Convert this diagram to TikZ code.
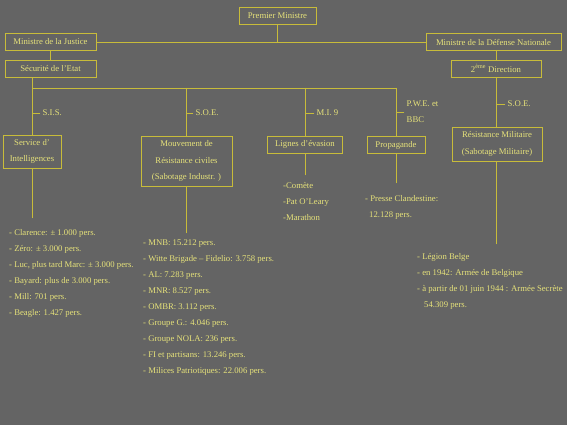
\documentclass[tikz,border=0pt]{standalone}
\usepackage{fontspec}
\setmainfont{Liberation Serif}
\usepackage{xcolor}
\usepackage{tikz}
\usetikzlibrary{positioning}
\definecolor{orgBack}{HTML}{646464}
\definecolor{orgLine}{HTML}{C8BC3A}
\definecolor{orgText}{HTML}{E6E27A}
\tikzset{
  org diagram/.style={x=1pt, y=-1pt, font=\fontsize{8.7}{16}\selectfont,
    text=orgText, line cap=rect},
  org box/.style={draw=orgLine, line width=0.9pt, align=center,
    inner sep=1pt, font=\fontsize{8.7}{16.5}\selectfont},
  org line/.style={draw=orgLine, line width=0.9pt},
  org tag/.style={anchor=west, inner sep=2.5pt, align=left},
  org list/.style={anchor=north west, inner sep=0pt, align=left}
}
\begin{document}
\begin{tikzpicture}[org diagram]
\fill[orgBack] (0,0) rectangle (567,425);
\useasboundingbox (0,0) rectangle (567,425);
\node[org box, minimum width=77pt, minimum height=17pt] (pm) at (277.5,15.5) {Premier Ministre};
\node[org box, minimum width=91pt, minimum height=17pt] (just) at (50.5,42) {Ministre de la Justice};
\node[org box, minimum width=135pt, minimum height=17pt] (def) at (493.5,42) {Ministre de la Défense Nationale};
\node[org box, minimum width=91pt, minimum height=17pt] (sec) at (50.5,68.5) {Sécurité de l’Etat};
\node[org box, minimum width=90pt, minimum height=17pt] (dir) at (496,68.5) {2\textsuperscript{ème} Direction};
\node[org box, minimum width=58pt, minimum height=33pt] (sis) at (32,151.5) {Service d’\\Intelligences};
\node[org box, minimum width=91pt, minimum height=50pt] (mrc) at (186.5,161) {Mouvement de\\Résistance civiles\\(Sabotage Industr. )};
\node[org box, minimum width=75pt, minimum height=17pt] (evas) at (305,144.5) {Lignes d’évasion};
\node[org box, minimum width=58pt, minimum height=17pt] (prop) at (396,145) {Propagande};
\node[org box, minimum width=90pt, minimum height=34pt] (resm) at (497,144) {Résistance Militaire\\(Sabotage Militaire)};
\coordinate (bus) at (0,88);
\draw[org line] (pm.south) -- (pm.south |- just.east);
\draw[org line] (just.east) -- (def.west);
\draw[org line] (just.south) -- (sec.north);
\draw[org line] (dir.north |- def.south) -- (dir.north);
\draw[org line] (dir.south) -- (dir.south |- resm.north);
\draw[org line] (sec.south -| sis.north) -- (sis.north);
\draw[org line] (sis.north |- bus) -- (prop.north |- bus);
\draw[org line] (mrc.north |- bus) -- (mrc.north);
\draw[org line] (evas.north |- bus) -- (evas.north);
\draw[org line] (prop.north |- bus) -- (prop.north);
\node[org tag] (tagSis) at (40,113) {S.I.S.};
\node[org tag] (tagSoe) at (193,113) {S.O.E.};
\node[org tag] (tagMi) at (314,113) {M.I. 9};
\node[org tag] (tagPwe) at (404,112) {P.W.E. et\\BBC};
\node[org tag] (tagSoeM) at (505,104) {S.O.E.};
\draw[org line] (sis.north |- tagSis.west) -- (tagSis.west);
\draw[org line] (mrc.north |- tagSoe.west) -- (tagSoe.west);
\draw[org line] (evas.north |- tagMi.west) -- (tagMi.west);
\draw[org line] (prop.north |- tagPwe.west) -- (tagPwe.west);
\draw[org line] (dir.south |- tagSoeM.west) -- (tagSoeM.west);
\coordinate (sisEnd) at (32,218);
\coordinate (mrcEnd) at (186.5,233);
\coordinate (evasEnd) at (305,175);
\coordinate (propEnd) at (396,183);
\coordinate (resmEnd) at (496,244);
\draw[org line] (sis.south) -- (sisEnd);
\draw[org line] (mrc.south) -- (mrcEnd);
\draw[org line] (evas.south) -- (evasEnd);
\draw[org line] (prop.south) -- (propEnd);
\draw[org line] (resm.south -| resmEnd) -- (resmEnd);
\node[org list] (listSis) at (9,229) {- Clarence: ± 1.000 pers.\\- Zéro: ± 3.000 pers.\\- Luc, plus tard Marc: ± 3.000 pers.\\- Bayard: plus de 3.000 pers.\\- Mill: 701 pers.\\- Beagle: 1.427 pers.};
\node[org list] (listSoe) at (143,240) {- MNB: 15.212 pers.\\- Witte Brigade – Fidelio: 3.758 pers.\\- AL: 7.283 pers.\\- MNR: 8.527 pers.\\- OMBR: 3.112 pers.\\- Groupe G.: 4.046 pers.\\- Groupe NOLA: 236 pers.\\- FI et partisans: 13.246 pers.\\- Milices Patriotiques: 22.006 pers.};
\node[org list] (listMi) at (283,182) {-Comète\\-Pat O’Leary\\-Marathon};
\node[org list] (listPwe) at (365,195) {- Presse Clandestine:\\\hspace*{4pt}12.128 pers.};
\node[org list] (listSoeM) at (417,253) {- Légion Belge\\- en 1942: Armée de Belgique\\- à partir de 01 juin 1944 :  Armée Secrète\\\hspace*{7pt}54.309 pers.};
\end{tikzpicture}
\end{document}
